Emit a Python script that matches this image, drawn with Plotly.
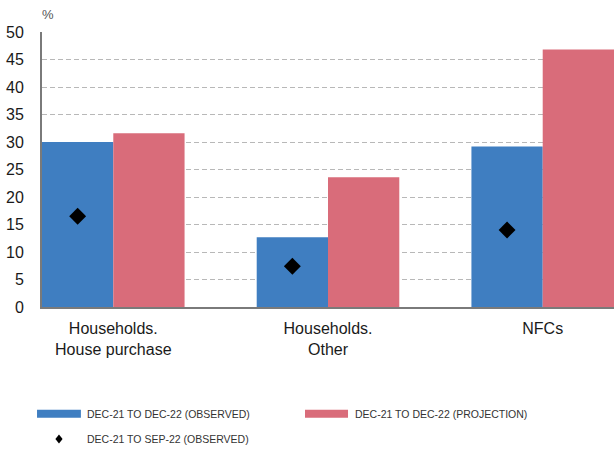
import plotly.graph_objects as go

categories = ["Households.<br>House purchase", "Households.<br>Other", "NFCs"]
observed_dec22 = [30.0, 12.7, 29.2]
projection_dec22 = [31.6, 23.6, 46.8]
observed_sep22 = [16.5, 7.4, 14.0]

series_names = [
    "DEC-21 TO DEC-22 (OBSERVED)",
    "DEC-21 TO DEC-22 (PROJECTION)",
    "DEC-21 TO SEP-22 (OBSERVED)",
]
y_ticks = list(range(0, 55, 5))

BLUE = "#3F7EC1"
RED = "#D96C7A"
FONT = "Liberation Sans, Arial, sans-serif"

bar_w = 0.332
idx = list(range(len(categories)))

fig = go.Figure()
fig.add_trace(go.Bar(
    x=[i - bar_w / 2 for i in idx], y=observed_dec22, width=bar_w,
    marker=dict(color=BLUE, line=dict(width=0)), name=series_names[0],
))
fig.add_trace(go.Bar(
    x=[i + bar_w / 2 for i in idx], y=projection_dec22, width=bar_w,
    marker=dict(color=RED, line=dict(width=0)), name=series_names[1],
))
fig.add_trace(go.Scatter(
    x=[i - bar_w / 2 for i in idx], y=observed_sep22, mode="markers",
    marker=dict(symbol="diamond", size=13, color="black"), name=series_names[2],
))

fig.update_layout(
    width=614, height=450,
    margin=dict(l=42, r=0, t=32, b=143),
    paper_bgcolor="white", plot_bgcolor="white",
    showlegend=False, barmode="overlay",
    font=dict(family=FONT, size=16, color="#1a1a1a"),
    xaxis=dict(
        range=[-0.332, 2.332], tickvals=idx, ticktext=categories,
        showgrid=False, zeroline=False, showline=True, linecolor="#7a7a7a",
        linewidth=2, ticks="", ticklabelstandoff=6,
        tickfont=dict(size=16, color="#1a1a1a"), fixedrange=True,
    ),
    yaxis=dict(
        range=[0, 50], tickvals=y_ticks, showgrid=True, gridcolor="#b8b8b8",
        griddash="5px,3px", gridwidth=1, zeroline=False, showline=True,
        linecolor="#7a7a7a", linewidth=2, ticks="", ticklabelstandoff=13,
        tickfont=dict(size=16, color="#1a1a1a"),
    ),
)

fig.add_annotation(
    text="%", xref="paper", yref="paper", x=-0.004, y=1.062, xanchor="left",
    yanchor="middle", showarrow=False, font=dict(size=13, color="#555555"),
)

# Legend drawn below the plot area
LEG_FONT = dict(family=FONT, size=10.5, color="#333333")
row1, row2 = -0.388, -0.48
legend_rows = [
    (row1, -0.0087, 0.068, 0.075, BLUE, series_names[0]),
    (row1, 0.4598, 0.535, 0.544, RED, series_names[1]),
]
for yy, x0, x1, xt, col, label in legend_rows:
    fig.add_shape(type="rect", xref="paper", yref="paper", x0=x0, x1=x1,
                  y0=yy - 0.0145, y1=yy + 0.0145, fillcolor=col, line=dict(width=0))
    fig.add_annotation(text=label, xref="paper", yref="paper", x=xt, y=yy,
                       xanchor="left", yanchor="middle", showarrow=False,
                       font=LEG_FONT)

# Diamond swatch for the September series
cx, cy, hx, hy = 0.0297, row2, 0.0063, 0.0165
fig.add_shape(
    type="path", xref="paper", yref="paper",
    path=f"M {cx} {cy + hy} L {cx + hx} {cy} L {cx} {cy - hy} L {cx - hx} {cy} Z",
    fillcolor="black", line=dict(width=0),
)
fig.add_annotation(text=series_names[2], xref="paper", yref="paper", x=0.075,
                   y=row2, xanchor="left", yanchor="middle", showarrow=False,
                   font=LEG_FONT)

fig.write_html("out.html")
